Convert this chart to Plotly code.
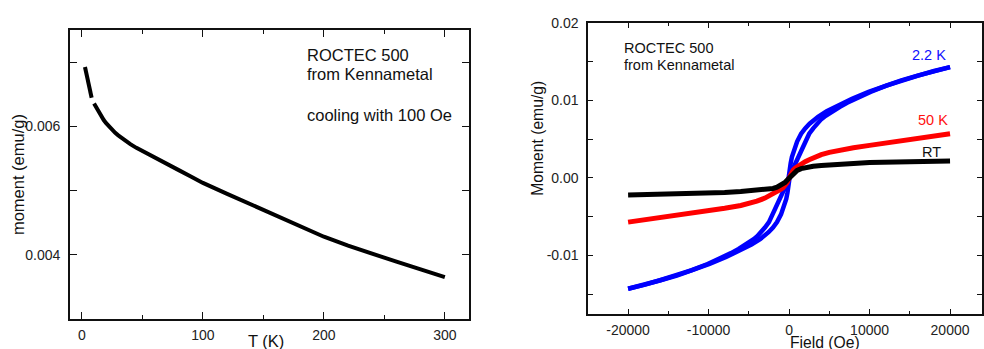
import plotly.graph_objects as go

W, H = 984, 349

# ---------------- Left panel data: moment vs temperature ----------------
T_K = [2.5, 3, 4, 5, 6, 7, 8, None,
       10, 11, 12, 13, 14, 16, 18, 20, 22.5, 25, 27.5, 30, 35, 40, 45, 50, 60, 70, 80, 90, 100,
       120, 140, 160, 180, 200, 220, 240, 260, 280, 300]
moment = [0.00693, 0.00688, 0.00677, 0.00668, 0.00660, 0.00652, 0.00645, None,
          0.00636, 0.006325, 0.00629, 0.006255, 0.00622, 0.006158, 0.006102, 0.006052,
          0.005997, 0.005947, 0.005902, 0.005862, 0.00579, 0.005725, 0.005667, 0.005615,
          0.005515, 0.00542, 0.00532, 0.00522, 0.00512,
          0.00495, 0.00478, 0.00461, 0.004445, 0.00428, 0.00414, 0.00401, 0.00389,
          0.00377, 0.00365]

# ---------------- Right panel data: hysteresis loops ----------------
# 2.2 K : descending branch (from +20 kOe) then ascending branch (from -20 kOe)
loop22_desc_field = [20000, 17985, 15970, 13950, 11920, 9880, 7820, 6780, 5730, 4670, 3600, 3075,
                     2550, 2000, 1500, 1000, 550, 350, 200, 100, -60, -400, -800, -1150, -1450,
                     -2000, -2500, -3000, -3450, -3925, -4400, -5330, -6270, -7220, -8180,
                     -10120, -12080, -14050, -16030, -18015, -20000]
loop22_desc_moment = [0.0143, 0.0138, 0.0132, 0.0126, 0.0119, 0.0111, 0.0102, 0.0097, 0.00915, 0.0086, 0.0079, 0.0075,
                      0.0070, 0.0064, 0.0057, 0.0047, 0.0035, 0.0027, 0.0019, 0.0010, 0.0, -0.0010, -0.0019, -0.0027, -0.0035,
                      -0.0047, -0.0057, -0.0064, -0.0070, -0.0075, -0.0079, -0.0086, -0.00915, -0.0097, -0.0102,
                      -0.0111, -0.0119, -0.0126, -0.0132, -0.0138, -0.0143]
loop22_asc_field = [-20000, -17985, -15970, -13950, -11920, -9880, -7820, -6780, -5730, -4670, -3600, -3075,
                    -2550, -2000, -1500, -1000, -550, -350, -200, -100, 60, 400, 800, 1150, 1450,
                    2000, 2500, 3000, 3450, 3925, 4400, 5330, 6270, 7220, 8180,
                    10120, 12080, 14050, 16030, 18015, 20000]
loop22_asc_moment = [-0.0143, -0.0138, -0.0132, -0.0126, -0.0119, -0.0111, -0.0102, -0.0097, -0.00915, -0.0086, -0.0079, -0.0075,
                     -0.0070, -0.0064, -0.0057, -0.0047, -0.0035, -0.0027, -0.0019, -0.0010, 0.0, 0.0010, 0.0019, 0.0027, 0.0035,
                     0.0047, 0.0057, 0.0064, 0.0070, 0.0075, 0.0079, 0.0086, 0.00915, 0.0097, 0.0102,
                     0.0111, 0.0119, 0.0126, 0.0132, 0.0138, 0.0143]

loop50_field = [-20000, -17500, -15000, -12500, -10000, -8000, -6000, -5000, -4000, -3000, -2500, -2000,
                -1500, -1000, -750, -500, -250, 0, 250, 500, 750, 1000, 1500, 2000, 2500, 3000,
                4000, 5000, 6000, 8000, 10000, 12500, 15000, 17500, 20000]
loop50_moment = [-0.0057, -0.00535, -0.0050, -0.0046, -0.0042, -0.0039, -0.00355, -0.0033, -0.0030, -0.0026, -0.00235, -0.0021,
                 -0.0018, -0.00145, -0.00125, -0.0010, -0.0006, 0.0, 0.0006, 0.0010, 0.00125, 0.00145, 0.0018, 0.0021, 0.00235, 0.0026,
                 0.0030, 0.0033, 0.00355, 0.0039, 0.0042, 0.0046, 0.0050, 0.00535, 0.0057]

loopRT_field = [-20000, -15000, -10000, -8000, -6000, -4000, -3000, -2000, -1500, -1000, -750, -500, -250,
                0, 250, 500, 750, 1000, 1500, 2000, 3000, 4000, 6000, 8000, 10000, 15000, 20000]
loopRT_moment = [-0.0022, -0.0021, -0.00198, -0.00188, -0.00175, -0.0016, -0.0015, -0.00135, -0.0012, -0.00097, -0.0008, -0.00058, -0.0003,
                 0.0, 0.0003, 0.00058, 0.0008, 0.00097, 0.0012, 0.00135, 0.0015, 0.0016, 0.00175, 0.00188, 0.00198, 0.0021, 0.0022]

# tick labels
left_x_ticks = [0, 100, 200, 300]
left_x_text = ["0", "100", "200", "300"]
left_x_minor = [50, 150, 250]
left_y_ticks = [0.004, 0.006]
left_y_text = ["0.004", "0.006"]
left_y_minor = [0.005, 0.007]
right_x_ticks = [-20000, -10000, 0, 10000, 20000]
right_x_text = ["-20000", "-10000", "0", "10000", "20000"]
right_x_minor = [-15000, -5000, 5000, 15000]
right_y_ticks = [-0.01, 0.0, 0.01, 0.02]
right_y_text = ["-0.01", "0.00", "0.01", "0.02"]
right_y_minor = [-0.015, -0.005, 0.005, 0.015]

FONT = "Liberation Sans, Arial, sans-serif"


def px(x):
    return x / W


def py(y):
    return 1 - y / H


fig = go.Figure()
fig.add_trace(go.Scatter(x=T_K, y=moment, mode="lines", connectgaps=False,
                         line=dict(color="black", width=4),
                         xaxis="x", yaxis="y", showlegend=False, hoverinfo="skip"))
fig.add_trace(go.Scatter(x=loop22_desc_field, y=loop22_desc_moment, mode="lines",
                         line=dict(color="#0000ff", width=4.5),
                         xaxis="x2", yaxis="y2", showlegend=False))
fig.add_trace(go.Scatter(x=loop22_asc_field, y=loop22_asc_moment, mode="lines",
                         line=dict(color="#0000ff", width=4.5),
                         xaxis="x2", yaxis="y2", showlegend=False))
fig.add_trace(go.Scatter(x=loop50_field, y=loop50_moment, mode="lines",
                         line=dict(color="#ff0000", width=5),
                         xaxis="x2", yaxis="y2", showlegend=False))
fig.add_trace(go.Scatter(x=loopRT_field, y=loopRT_moment, mode="lines",
                         line=dict(color="black", width=5),
                         xaxis="x2", yaxis="y2", showlegend=False))

axis_common = dict(showline=True, linecolor="#111", linewidth=1.5, mirror="ticks",
                   ticks="inside", tickcolor="#111", tickwidth=1, showgrid=False,
                   zeroline=False, tickfont=dict(family=FONT, size=14, color="#222"),
                   tickmode="array")

fig.update_layout(
    width=W, height=H, margin=dict(l=0, r=0, t=0, b=0),
    paper_bgcolor="white", plot_bgcolor="white",
    xaxis=dict(domain=[px(70), px(470)], range=[-10, 320], anchor="y",
               tickvals=left_x_ticks, ticktext=left_x_text, ticklen=7,
               minor=dict(tickvals=left_x_minor, ticks="inside", ticklen=4, tickcolor="#111"),
               ticklabelstandoff=3, **axis_common),
    yaxis=dict(domain=[py(318), py(23)], range=[0.003, 0.0075], anchor="x",
               tickvals=left_y_ticks, ticktext=left_y_text, ticklen=7,
               minor=dict(tickvals=left_y_minor, ticks="inside", ticklen=7, tickcolor="#111"),
               ticklabelstandoff=5, **axis_common),
    xaxis2=dict(domain=[px(589.3), 1.0], range=[-24970, 23970], anchor="y2",
                tickvals=right_x_ticks, ticktext=right_x_text, ticklen=5,
                minor=dict(tickvals=right_x_minor, ticks="inside", ticklen=3, tickcolor="#111"),
                ticklabelstandoff=2, **axis_common),
    yaxis2=dict(domain=[py(313.3), py(15.3)], range=[-0.01757, 0.02], anchor="x2",
                tickvals=right_y_ticks, ticktext=right_y_text, ticklen=5,
                minor=dict(tickvals=right_y_minor, ticks="inside", ticklen=5, tickcolor="#111"),
                ticklabelstandoff=5, **axis_common),
)


def ann(text, x, y, size, color="#111", xanchor="left", yanchor="middle", angle=0):
    fig.add_annotation(text=text, x=px(x), y=py(y), xref="paper", yref="paper",
                       xanchor=xanchor, yanchor=yanchor, showarrow=False, textangle=angle,
                       font=dict(family=FONT, size=size, color=color))


# left panel texts
ann("ROCTEC 500", 306, 48, 16.5)
ann("from Kennametal", 306, 68, 16.5)
ann("cooling with 100 Oe", 306, 109, 16.5)
ann("T (K)", 267, 341, 16.5, xanchor="center")
ann("moment (emu/g)", 18, 170, 16.5, xanchor="center", angle=-90)

# right panel texts
ann("ROCTEC 500", 623.5, 40.5, 14.5)
ann("from Kennametal", 623.5, 58.5, 14.5)
ann("2.2 K", 950, 48.5, 14.5, color="#1010ff", xanchor="right")
ann("50 K", 951.5, 115, 14.5, color="#ff1010", xanchor="right")
ann("RT", 944.5, 147, 14.5, color="#111", xanchor="right")
ann("Field (Oe)", 827, 342, 15.7, xanchor="center")
ann("Moment (emu/g)", 539, 133, 15.7, xanchor="center", angle=-90)

fig.write_html("out.html")
